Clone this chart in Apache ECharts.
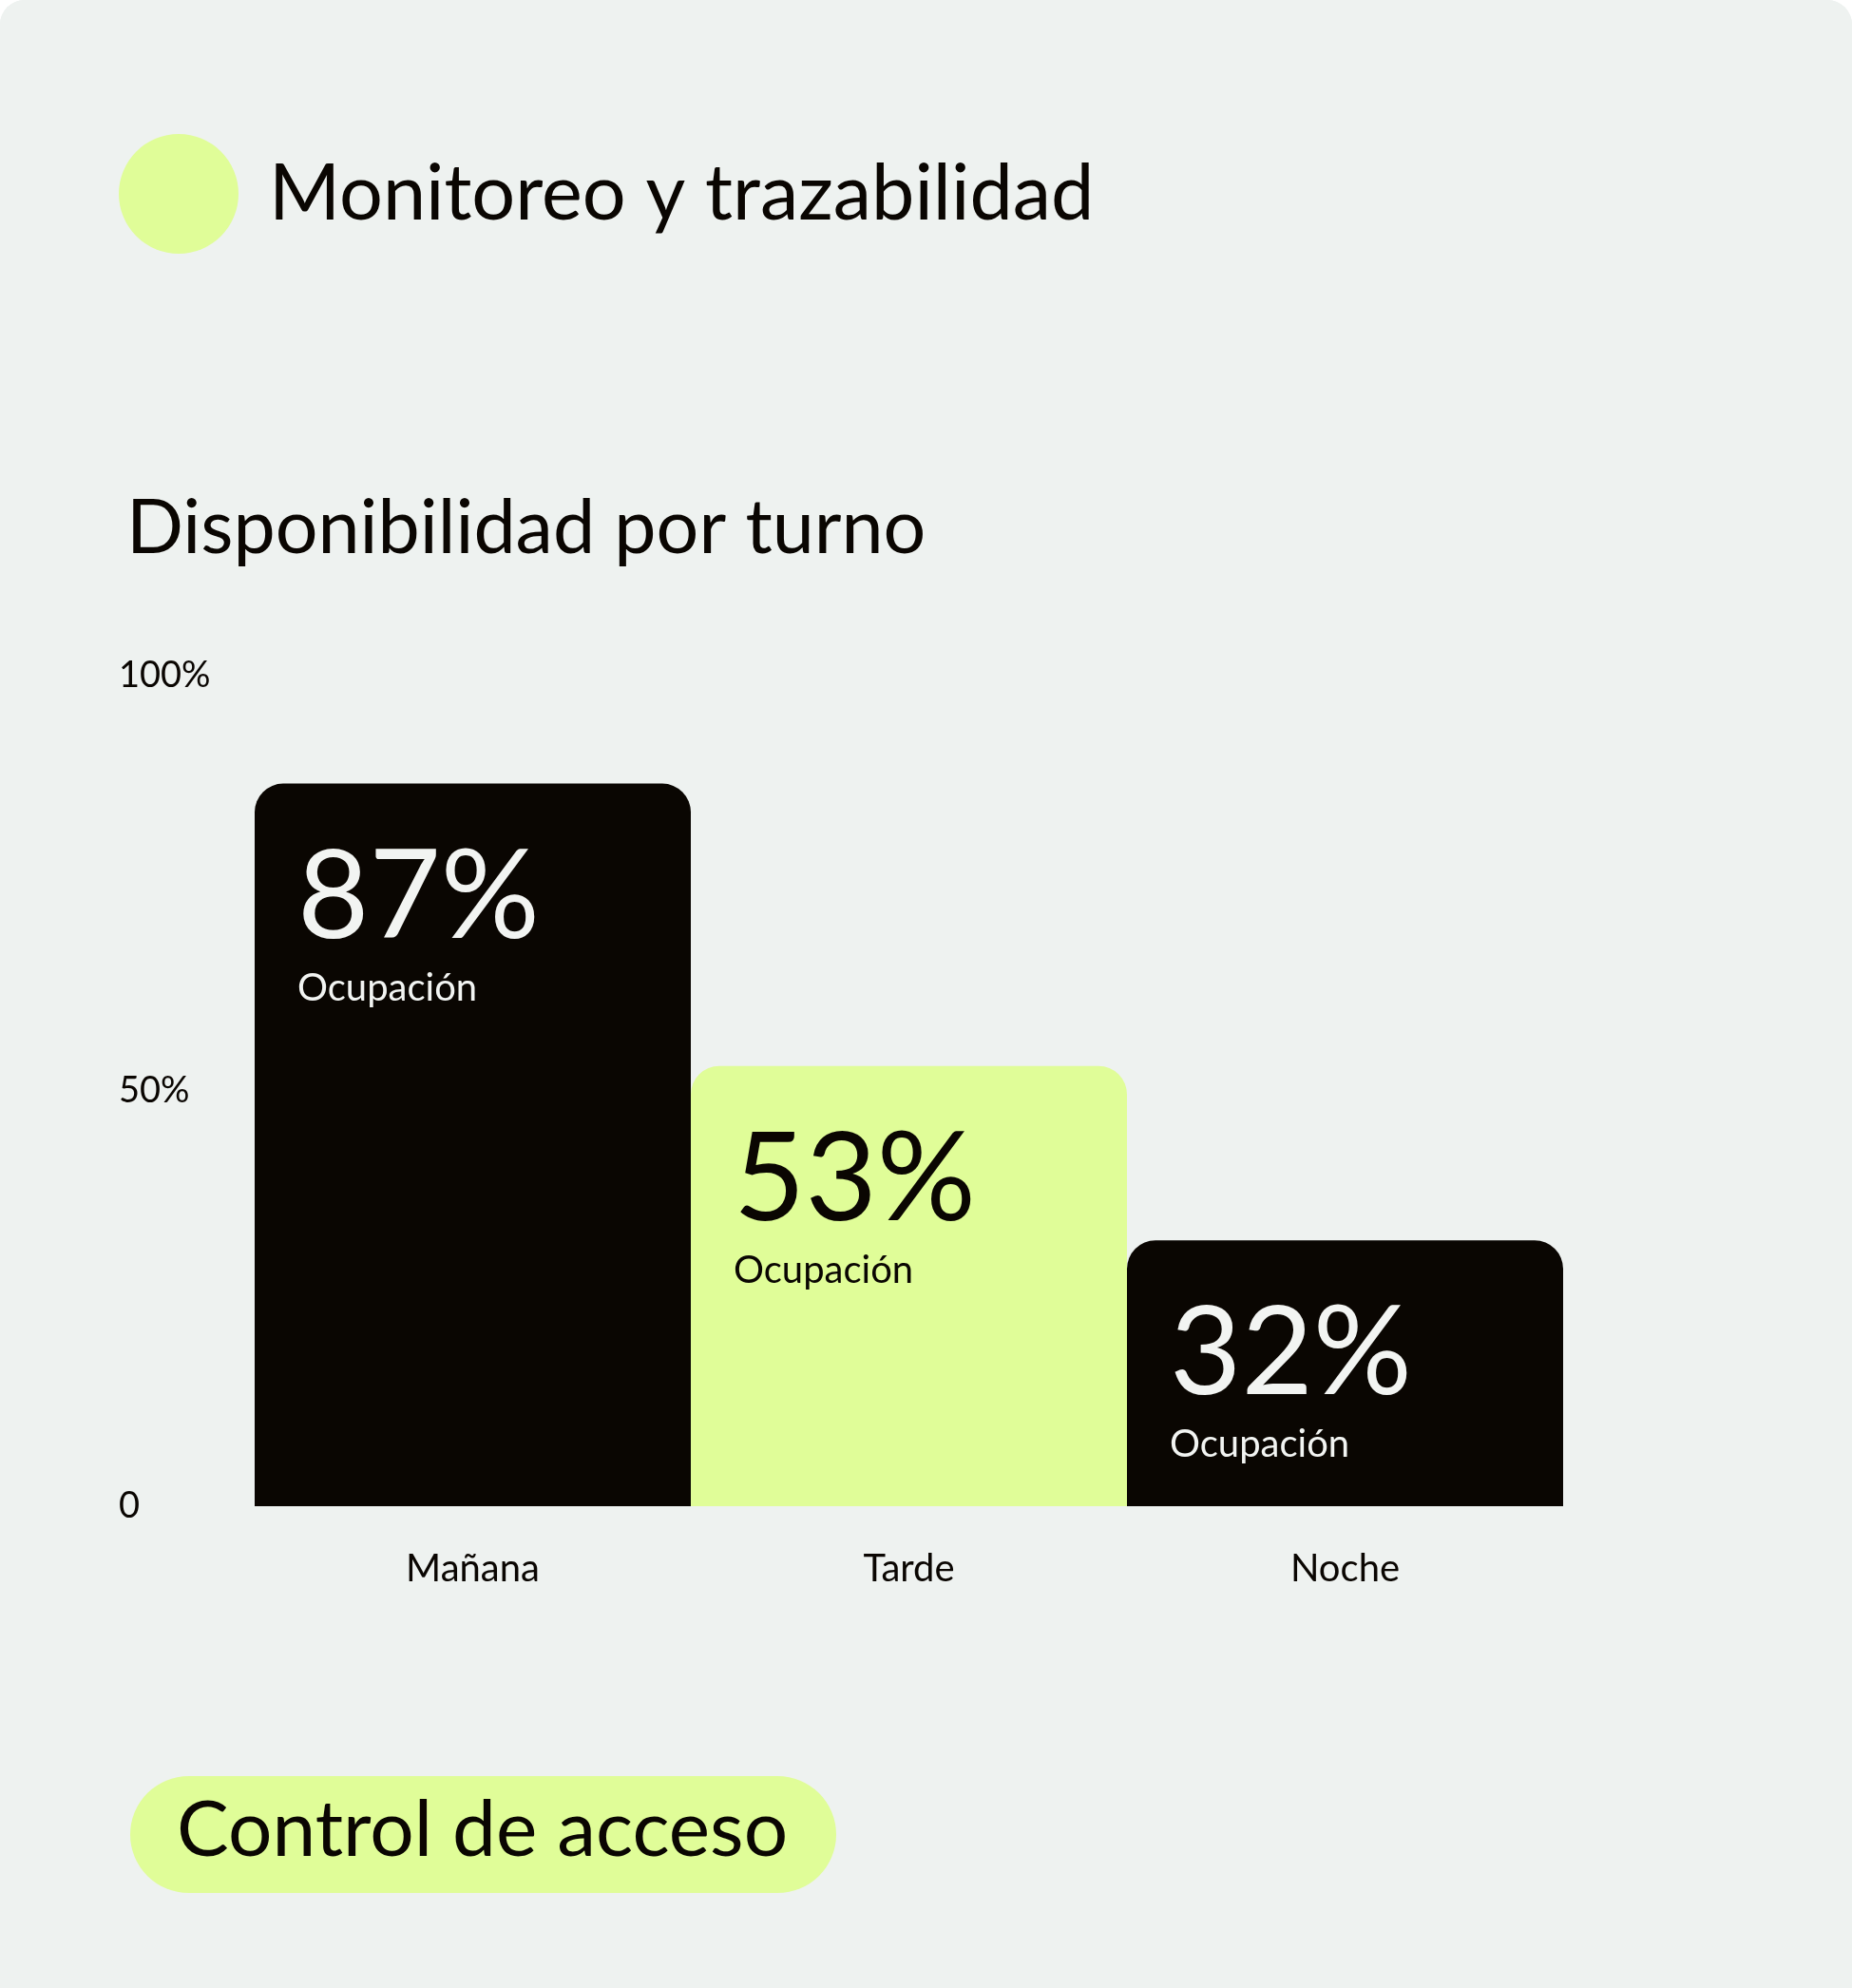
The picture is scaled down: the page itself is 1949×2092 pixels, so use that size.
<!DOCTYPE html>
<html>
<head>
<meta charset="utf-8">
<script src="https://cdn.jsdelivr.net/npm/echarts@6/dist/echarts.min.js"></script>
<style>
  html, body { margin: 0; padding: 0; background: #ffffff; }
  #chart { width: 1949px; height: 2092px; background: #eef2f0; border-radius: 26px 26px 0 0; overflow: hidden; }
</style>
</head>
<body>
<div id="chart"></div>
<script>
var turnos = ['Mañana', 'Tarde', 'Noche'];
var ocupacion = [87, 53, 32];
var colores = ['#0a0602', '#e0fd98', '#0a0602'];
var textos = ['#f2f4f2', '#0a0602', '#f2f4f2'];
var yTicks = [0, 50, 100];

var font = 'Lato, "Open Sans", sans-serif';
var myChart = echarts.init(document.getElementById('chart'));

var barData = [];
ocupacion.forEach(function (v, i) {
    barData.push({
        value: v,
        itemStyle: { color: colores[i] },
        label: { color: textos[i] }
    });
});

myChart.setOption({
    backgroundColor: '#eef2f0',
    graphic: [
        { type: 'circle', shape: { cx: 188, cy: 204, r: 63 }, style: { fill: '#e0fd98' } },
        { type: 'text', left: 283, top: 164, style: { text: 'Monitoreo y trazabilidad', fontSize: 81, fontFamily: font, fill: '#0a0602' } },
        { type: 'text', left: 133, top: 517, style: { text: 'Disponibilidad por turno', fontSize: 79, fontFamily: font, fill: '#0a0602' } },
        { type: 'rect', shape: { x: 137, y: 1869, width: 743, height: 123, r: 62 }, style: { fill: '#e0fd98' } },
        { type: 'text', left: 186, top: 1886, style: { text: 'Control de acceso', fontSize: 82, fontFamily: font, fill: '#0a0602' } }
    ],
    grid: { left: 268, right: 304, top: 711, bottom: 2092 - 1585 },
    xAxis: {
        type: 'category',
        data: turnos,
        axisLine: { show: false },
        axisTick: { show: false },
        axisLabel: { fontSize: 40, fontFamily: font, color: '#0a0602', margin: 46 }
    },
    yAxis: {
        type: 'value',
        min: 0,
        max: 100,
        interval: 50,
        splitLine: { show: false },
        axisLabel: {
            fontSize: 38, fontFamily: font, color: '#0a0602', align: 'left', margin: 143,
            formatter: function (v) { return yTicks.indexOf(v) < 0 ? '' : (v === 0 ? '0' : v + '%'); }
        }
    },
    series: [{
        type: 'bar',
        data: barData,
        barCategoryGap: 0,
        itemStyle: { borderRadius: [30, 30, 0, 0] },
        label: {
            show: true,
            position: 'insideTopLeft',
            distance: 0,
            padding: [50, 0, 0, 45],
            fontFamily: font,
            formatter: function (p) { return '{big|' + p.value + '%}\n{small|Ocupación}'; },
            rich: {
                big: { fontSize: 130, fontFamily: font, lineHeight: 140 },
                small: { fontSize: 40, fontFamily: font, lineHeight: 50 }
            }
        }
    }]
});
</script>
</body>
</html>
